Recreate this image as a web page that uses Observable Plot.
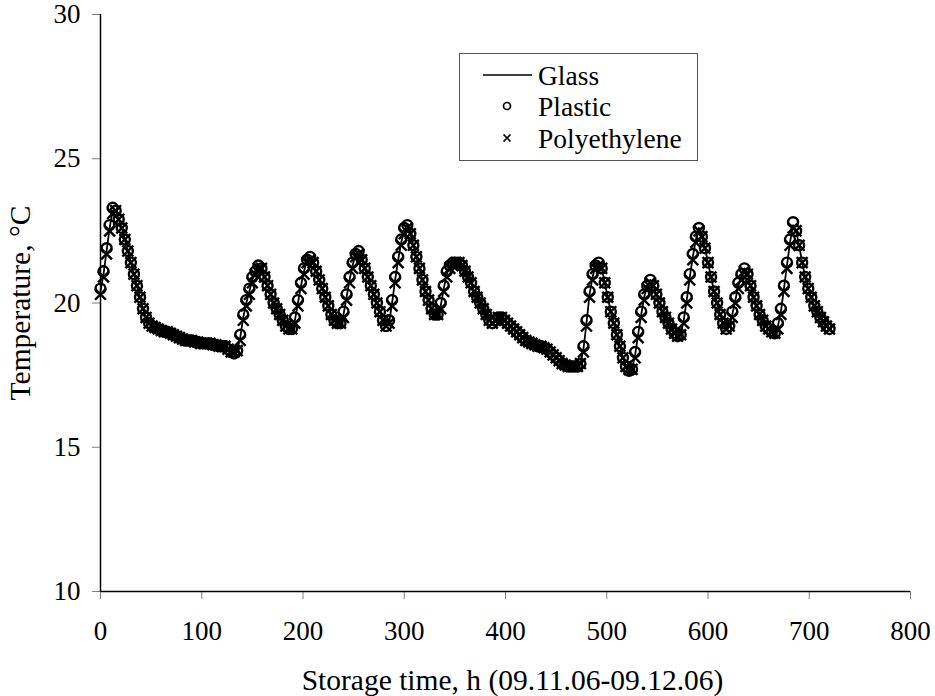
<!DOCTYPE html>
<html>
<head>
<meta charset="utf-8">
<script src="https://cdn.jsdelivr.net/npm/d3@7"></script>
<script src="https://cdn.jsdelivr.net/npm/@observablehq/plot@0.6"></script>
<style>
  html, body { margin: 0; padding: 0; background: #fff; }
  #wrap { position: relative; width: 935px; height: 696px; font-family: "Liberation Serif", "Times New Roman", Times, "DejaVu Serif", serif; }
  #legend { position: absolute; left: 459px; top: 53px; }
  svg text { font-family: "Liberation Serif", "Times New Roman", Times, "DejaVu Serif", serif; }
</style>
</head>
<body>
<div id="wrap">
  <div id="chart"></div>
  <svg id="legend" width="240" height="109"></svg>
</div>
<script>
// Storage time sampling (hours), 0 .. 720 every 3 h
const hours = d3.range(0, 721, 3);

// Temperature, °C
const glass = [
  20.4,21.0,21.8,22.6,23.2,23.2,22.9,22.6,22.2,21.8,21.4,21.0,20.6,20.2,19.8,19.5,
  19.3,19.2,19.15,19.1,19.05,19.0,19.0,18.95,18.9,18.85,18.8,18.75,18.7,18.7,18.7,18.65,
  18.65,18.6,18.6,18.6,18.6,18.55,18.55,18.5,18.5,18.5,18.4,18.3,18.3,18.35,18.8,19.5,
  20.0,20.4,20.8,21.1,21.3,21.2,20.9,20.6,20.3,20.0,19.8,19.6,19.4,19.2,19.1,19.1,
  19.4,20.0,20.6,21.1,21.5,21.6,21.4,21.1,20.8,20.5,20.2,19.9,19.6,19.4,19.3,19.3,
  19.6,20.2,20.8,21.3,21.7,21.8,21.5,21.2,20.9,20.6,20.3,20.0,19.7,19.4,19.2,19.3,
  20.0,20.8,21.5,22.1,22.5,22.7,22.4,22.0,21.6,21.2,20.8,20.4,20.1,19.8,19.6,19.6,
  19.9,20.5,21.0,21.3,21.4,21.4,21.4,21.3,21.1,20.9,20.7,20.4,20.2,20.0,19.8,19.6,
  19.4,19.3,19.4,19.5,19.5,19.4,19.3,19.2,19.1,19.0,18.9,18.8,18.7,18.65,18.6,18.55,
  18.5,18.5,18.45,18.4,18.3,18.2,18.1,18.0,17.9,17.85,17.8,17.8,17.8,17.8,17.9,18.4,
  19.3,20.3,20.9,21.3,21.4,21.2,20.7,20.2,19.7,19.3,18.9,18.5,18.1,17.8,17.65,17.7,
  18.2,18.9,19.6,20.2,20.6,20.8,20.6,20.3,20.0,19.7,19.5,19.3,19.1,18.95,18.85,18.9,
  19.4,20.1,20.9,21.6,22.2,22.6,22.3,21.9,21.4,20.9,20.4,20.0,19.6,19.3,19.1,19.2,
  19.6,20.1,20.6,20.9,21.2,21.0,20.6,20.2,19.9,19.6,19.4,19.2,19.1,19.0,18.95,19.2,
  19.7,20.5,21.3,22.1,22.7,22.5,22.0,21.4,20.9,20.5,20.2,19.9,19.7,19.5,19.35,19.2,
  19.1
];
const plastic = [
  20.5,21.1,21.9,22.7,23.3,23.2,22.9,22.6,22.2,21.8,21.4,21.0,20.6,20.2,19.8,19.5,
  19.3,19.2,19.15,19.1,19.05,19.0,19.0,18.95,18.9,18.85,18.8,18.75,18.7,18.7,18.7,18.65,
  18.65,18.6,18.6,18.6,18.6,18.55,18.55,18.5,18.5,18.5,18.4,18.3,18.25,18.35,18.9,19.6,
  20.1,20.5,20.9,21.1,21.3,21.2,20.9,20.6,20.3,20.0,19.8,19.6,19.4,19.2,19.1,19.1,
  19.5,20.1,20.7,21.2,21.5,21.6,21.4,21.1,20.8,20.5,20.2,19.9,19.6,19.4,19.3,19.3,
  19.7,20.3,20.9,21.4,21.7,21.8,21.5,21.2,20.9,20.6,20.3,20.0,19.7,19.4,19.2,19.4,
  20.1,20.9,21.6,22.2,22.6,22.7,22.4,22.0,21.6,21.2,20.8,20.4,20.1,19.8,19.6,19.6,
  20.0,20.6,21.1,21.3,21.4,21.4,21.4,21.3,21.1,20.9,20.7,20.4,20.2,20.0,19.8,19.6,
  19.4,19.3,19.4,19.5,19.5,19.4,19.3,19.2,19.1,19.0,18.9,18.8,18.7,18.65,18.6,18.55,
  18.5,18.5,18.45,18.4,18.3,18.2,18.1,18.0,17.9,17.85,17.8,17.8,17.8,17.8,17.9,18.5,
  19.4,20.4,21.0,21.3,21.4,21.2,20.7,20.2,19.7,19.3,18.9,18.5,18.1,17.8,17.65,17.7,
  18.3,19.0,19.7,20.3,20.6,20.8,20.6,20.3,20.0,19.7,19.5,19.3,19.1,18.95,18.85,18.9,
  19.5,20.2,21.0,21.7,22.3,22.6,22.3,21.9,21.4,20.9,20.4,20.0,19.6,19.3,19.1,19.2,
  19.7,20.2,20.7,21.0,21.2,21.0,20.6,20.2,19.9,19.6,19.4,19.2,19.1,19.0,18.95,19.3,
  19.8,20.6,21.4,22.2,22.8,22.5,22.0,21.4,20.9,20.5,20.2,19.9,19.7,19.5,19.35,19.2,
  19.1
];
const polyethylene = [
  20.3,20.9,21.7,22.5,23.1,23.2,22.9,22.6,22.2,21.8,21.4,21.0,20.6,20.2,19.8,19.5,
  19.3,19.2,19.15,19.1,19.05,19.0,19.0,18.95,18.9,18.85,18.8,18.75,18.7,18.7,18.7,18.65,
  18.65,18.6,18.6,18.6,18.6,18.55,18.55,18.5,18.5,18.5,18.4,18.3,18.3,18.35,18.7,19.4,
  19.9,20.3,20.7,21.0,21.2,21.2,20.9,20.6,20.3,20.0,19.8,19.6,19.4,19.2,19.1,19.1,
  19.3,19.9,20.5,21.0,21.4,21.5,21.4,21.1,20.8,20.5,20.2,19.9,19.6,19.4,19.3,19.3,
  19.5,20.1,20.7,21.2,21.6,21.7,21.5,21.2,20.9,20.6,20.3,20.0,19.7,19.4,19.2,19.3,
  19.9,20.7,21.4,22.0,22.4,22.6,22.4,22.0,21.6,21.2,20.8,20.4,20.1,19.8,19.6,19.6,
  19.8,20.4,20.9,21.2,21.3,21.4,21.4,21.3,21.1,20.9,20.7,20.4,20.2,20.0,19.8,19.6,
  19.4,19.3,19.4,19.5,19.5,19.4,19.3,19.2,19.1,19.0,18.9,18.8,18.7,18.65,18.6,18.55,
  18.5,18.5,18.45,18.4,18.3,18.2,18.1,18.0,17.9,17.85,17.8,17.8,17.8,17.8,17.9,18.3,
  19.2,20.2,20.8,21.2,21.3,21.2,20.7,20.2,19.7,19.3,18.9,18.5,18.1,17.8,17.7,17.7,
  18.1,18.8,19.5,20.1,20.5,20.7,20.6,20.3,20.0,19.7,19.5,19.3,19.1,18.95,18.85,18.9,
  19.3,20.0,20.8,21.5,22.1,22.5,22.3,21.9,21.4,20.9,20.4,20.0,19.6,19.3,19.1,19.2,
  19.5,20.0,20.5,20.8,21.1,21.0,20.6,20.2,19.9,19.6,19.4,19.2,19.1,19.0,18.95,19.1,
  19.6,20.4,21.2,22.0,22.6,22.5,22.0,21.4,20.9,20.5,20.2,19.9,19.7,19.5,19.35,19.2,
  19.1
];

const xTicks = [0, 100, 200, 300, 400, 500, 600, 700, 800];
const yTicks = [10, 15, 20, 25, 30];
const seriesNames = ["Glass", "Plastic", "Polyethylene"];
const xLabel = "Storage time, h (09.11.06-09.12.06)";
const yLabel = "Temperature, °C";

const data = hours.map((h, i) => ({h, glass: glass[i], plastic: plastic[i], poly: polyethylene[i]}));

const FONT = '"Liberation Serif", "Times New Roman", Times, "DejaVu Serif", serif';
const FS = 27;      // tick labels
const FS_T = 29.5;  // axis titles
const FS_L = 27.5;  // legend

const chart = Plot.plot({
  width: 935,
  height: 696,
  marginLeft: 100,
  marginRight: 25,
  marginTop: 14,
  marginBottom: 105,
  style: {fontFamily: FONT, fontSize: FS + "px", background: "white", overflow: "visible", color: "black"},
  x: {domain: [0, 800]},
  y: {domain: [10, 30]},
  marks: [
    Plot.axisX({ticks: xTicks, tickSize: 8, tickPadding: 21, stroke: "#808080", fill: "black", label: null, tickFormat: d => String(d), fontSize: FS}),
    Plot.axisY({ticks: yTicks, tickSize: 8, tickPadding: 12, stroke: "#808080", fill: "black", label: null, tickFormat: d => String(d), fontSize: FS}),
    Plot.ruleX([0], {stroke: "black", strokeWidth: 1.5}),
    Plot.ruleY([10], {stroke: "black", strokeWidth: 1.5}),
    Plot.line(data, {x: "h", y: "glass", stroke: "black", strokeWidth: 1.8}),
    Plot.dot(data, {x: "h", y: "plastic", symbol: "circle", r: 5, stroke: "black", strokeWidth: 2.4, fill: "none"}),
    Plot.dot(data, {x: "h", y: "poly", symbol: "times", r: 5, stroke: "black", strokeWidth: 2.4}),
    Plot.text([xLabel], {text: d => d, frameAnchor: "bottom", textAnchor: "middle", lineAnchor: "middle", dx: 7, dy: 89, fontSize: FS_T, fill: "black"}),
    Plot.text([yLabel], {text: d => d, frameAnchor: "left", textAnchor: "middle", lineAnchor: "middle", dx: -80, rotate: -90, fontSize: FS_T, fill: "black"})
  ]
});
document.getElementById("chart").appendChild(chart);

// Legend (box drawn as a small SVG overlay)
const lg = d3.select("#legend");
lg.append("rect").attr("x", 0.5).attr("y", 0.5).attr("width", 238).attr("height", 107)
  .attr("fill", "white").attr("stroke", "#555").attr("stroke-width", 1);
const rowsY = [22, 53, 85];
seriesNames.forEach((name, i) => {
  const y = rowsY[i];
  if (i === 0) {
    lg.append("line").attr("x1", 24).attr("x2", 73).attr("y1", y).attr("y2", y).attr("stroke", "black").attr("stroke-width", 1.6);
  } else if (i === 1) {
    lg.append("circle").attr("cx", 48).attr("cy", y).attr("r", 3.5).attr("fill", "none").attr("stroke", "black").attr("stroke-width", 1.7);
  } else {
    lg.append("path").attr("d", `M${44.5},${y-3.5}L${51.5},${y+3.5}M${51.5},${y-3.5}L${44.5},${y+3.5}`).attr("stroke", "black").attr("stroke-width", 1.7);
  }
  lg.append("text").attr("x", 79).attr("y", y).attr("dy", "0.35em")
    .attr("font-family", FONT).attr("font-size", FS_L).attr("fill", "black").text(name);
});
</script>
</body>
</html>
